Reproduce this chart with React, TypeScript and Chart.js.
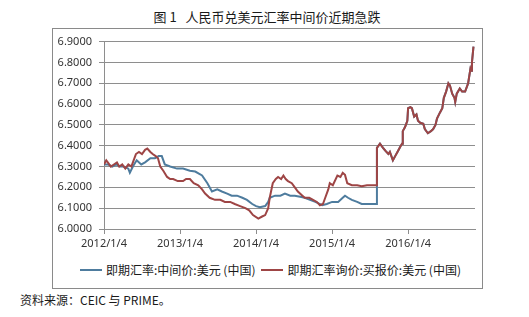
import React, { useEffect, useRef } from "react";
import { Chart, registerables } from "chart.js";

Chart.register(...registerables);

const TITLE = "图 1   人民币兑美元汇率中间价近期急跌";
const SOURCE = "资料来源：CEIC 与 PRIME。";
const SERIES_NAMES = ["即期汇率:中间价:美元 (中国)", "即期汇率询价:买报价:美元 (中国)"];

const yearTicks = [2012, 2013, 2014, 2015, 2016];
const yTicks = [6.0, 6.1, 6.2, 6.3, 6.4, 6.5, 6.6, 6.7, 6.8, 6.9];

// 中间价 (central parity) before Aug 2015, x in fractional years
const midX = [
  2012.0, 2012.05, 2012.11, 2012.16, 2012.21, 2012.26, 2012.32, 2012.34, 2012.38, 2012.43,
  2012.49, 2012.54, 2012.61, 2012.67, 2012.72, 2012.76, 2012.8, 2012.87, 2012.96, 2013.04,
  2013.13, 2013.2, 2013.29, 2013.36, 2013.42, 2013.49, 2013.55, 2013.62, 2013.68, 2013.75,
  2013.82, 2013.88, 2013.95, 2014.0, 2014.05, 2014.12, 2014.16, 2014.18, 2014.25, 2014.32,
  2014.38, 2014.45, 2014.51, 2014.58, 2014.64, 2014.71, 2014.78, 2014.87, 2014.93, 2015.0,
  2015.08, 2015.14, 2015.17, 2015.21, 2015.26, 2015.33, 2015.39, 2015.46, 2015.54, 2015.585,
];
const midY = [
  6.31, 6.31, 6.3, 6.31, 6.3, 6.3, 6.29, 6.27, 6.3, 6.33,
  6.31, 6.32, 6.34, 6.34, 6.35, 6.35, 6.31, 6.3, 6.29, 6.29,
  6.28, 6.276, 6.257, 6.22, 6.18, 6.19, 6.18, 6.17, 6.16, 6.16,
  6.15, 6.14, 6.12, 6.11, 6.105, 6.11, 6.13, 6.15, 6.16, 6.16,
  6.17, 6.16, 6.16, 6.155, 6.15, 6.14, 6.13, 6.114, 6.12, 6.13,
  6.13, 6.15, 6.16, 6.15, 6.14, 6.13, 6.12, 6.12, 6.12, 6.12,
];

// 询价买报价 (spot bid) before Aug 2015
const bidX = [
  2012.0, 2012.03, 2012.05, 2012.09, 2012.13, 2012.17, 2012.2, 2012.24, 2012.28, 2012.32,
  2012.36, 2012.38, 2012.42, 2012.46, 2012.5, 2012.54, 2012.57, 2012.61, 2012.64, 2012.68,
  2012.71, 2012.74, 2012.78, 2012.83, 2012.87, 2012.91, 2012.97, 2013.04, 2013.08, 2013.13,
  2013.18, 2013.24, 2013.29, 2013.33, 2013.39, 2013.46, 2013.53, 2013.59, 2013.66, 2013.72,
  2013.79, 2013.86, 2013.91, 2013.96, 2014.03, 2014.08, 2014.12, 2014.16, 2014.18, 2014.22,
  2014.26, 2014.29, 2014.33, 2014.36, 2014.39, 2014.42, 2014.47, 2014.51, 2014.55, 2014.61,
  2014.64, 2014.7, 2014.75, 2014.8, 2014.84, 2014.88, 2014.91, 2014.95, 2014.97, 2015.01,
  2015.07, 2015.11, 2015.14, 2015.17, 2015.2, 2015.26, 2015.33, 2015.39, 2015.46, 2015.53,
  2015.585,
];
const bidY = [
  6.31, 6.33, 6.32, 6.3, 6.31, 6.32, 6.3, 6.31, 6.29, 6.31,
  6.3, 6.32, 6.36, 6.37, 6.36, 6.38, 6.386, 6.37, 6.36, 6.35,
  6.34, 6.3, 6.28, 6.25, 6.24, 6.24, 6.23, 6.23, 6.24, 6.24,
  6.22, 6.21, 6.19, 6.17, 6.15, 6.14, 6.14, 6.13, 6.13, 6.12,
  6.11, 6.1, 6.09, 6.067, 6.05, 6.06, 6.067, 6.1, 6.15, 6.22,
  6.24, 6.25, 6.24, 6.257, 6.24, 6.23, 6.22, 6.2, 6.18, 6.16,
  6.15, 6.15, 6.14, 6.13, 6.114, 6.12, 6.15, 6.19, 6.22, 6.21,
  6.257, 6.25, 6.27, 6.26, 6.22, 6.21, 6.21, 6.205, 6.21, 6.21,
  6.21,
];

// after the Aug 2015 reform both series coincide
const lateX = [
  2015.59, 2015.63, 2015.67, 2015.7, 2015.74, 2015.76, 2015.8, 2015.83, 2015.86, 2015.89,
  2015.92, 2015.93, 2015.96, 2015.99, 2016.0, 2016.03, 2016.05, 2016.08, 2016.11, 2016.13,
  2016.16, 2016.2, 2016.22, 2016.26, 2016.3, 2016.33, 2016.36, 2016.38, 2016.42, 2016.45,
  2016.47, 2016.5, 2016.53, 2016.55, 2016.58, 2016.61, 2016.62, 2016.64, 2016.68, 2016.71,
  2016.75, 2016.78, 2016.79, 2016.82, 2016.83, 2016.84, 2016.86,
];
const lateY = [
  6.39, 6.41, 6.39, 6.376, 6.36, 6.37, 6.33, 6.35, 6.37, 6.39,
  6.41, 6.47, 6.49, 6.52, 6.58, 6.585, 6.58, 6.54, 6.55, 6.52,
  6.51, 6.505, 6.48, 6.46, 6.47, 6.48, 6.5, 6.53, 6.56, 6.58,
  6.63, 6.66, 6.7, 6.69, 6.65, 6.63, 6.61, 6.65, 6.675, 6.66,
  6.66, 6.69, 6.7, 6.77, 6.76, 6.8, 6.876,
];

const BLUE = "#4e7c9e";
const RED = "#9e4545";
const GRID = "#8e8e8e";
const FONT_CJK = "'Noto Sans CJK SC', 'Noto Sans', sans-serif";

function toPoints(xs: number[], ys: number[]) {
  return xs.map((x, i) => ({ x, y: ys[i] }));
}

export default function App() {
  const canvasRef = useRef<HTMLCanvasElement | null>(null);

  useEffect(() => {
    document.body.style.margin = "0";
    const ctx = canvasRef.current;
    if (!ctx) return;
    const chart = new Chart(ctx, {
      type: "line",
      data: {
        datasets: [
          {
            label: SERIES_NAMES[0],
            data: toPoints(midX.concat(lateX), midY.concat(lateY)),
            borderColor: BLUE,
            backgroundColor: BLUE,
            borderWidth: 2,
            pointRadius: 0,
            tension: 0,
            order: 1,
          },
          {
            label: SERIES_NAMES[1],
            data: toPoints(bidX.concat(lateX), bidY.concat(lateY)),
            borderColor: RED,
            backgroundColor: RED,
            borderWidth: 2,
            pointRadius: 0,
            tension: 0,
            order: 0,
          },
        ],
      },
      options: {
        animation: false,
        responsive: false,
        maintainAspectRatio: false,
        layout: { padding: { left: 0, right: 7, top: 12, bottom: 0 } },
        plugins: {
          legend: { display: false },
          tooltip: { enabled: false },
          title: { display: false },
        },
        scales: {
          x: {
            type: "linear",
            min: 2012,
            max: 2016.88,
            afterBuildTicks: (scale: any) => {
              scale.ticks = yearTicks.map((v) => ({ value: v }));
            },
            afterFit: (scale: any) => {
              scale.height = 29;
            },
            grid: {
              drawOnChartArea: false,
              drawTicks: true,
              tickLength: 5,
              color: GRID,
            },
            border: { display: true, color: GRID },
            ticks: {
              autoSkip: false,
              maxRotation: 0,
              padding: 3,
              color: "#333",
              font: { family: "'Noto Sans', sans-serif", size: 11 },
              callback: (v: any) => `${Math.round(Number(v))}/1/4`,
            },
          },
          y: {
            type: "linear",
            min: 6.0,
            max: 6.9,
            afterBuildTicks: (scale: any) => {
              scale.ticks = yTicks.map((v) => ({ value: v }));
            },
            afterFit: (scale: any) => {
              scale.width = 52;
            },
            grid: {
              drawOnChartArea: true,
              drawTicks: true,
              tickLength: 5,
              color: GRID,
            },
            border: { display: true, color: GRID },
            ticks: {
              autoSkip: false,
              padding: 7,
              color: "#333",
              font: { family: "'Noto Sans', sans-serif", size: 11 },
              callback: (v: any) => Number(v).toFixed(4),
            },
          },
        },
      },
    });
    return () => chart.destroy();
  }, []);

  const legendItem = (color: string, text: string) => (
    <span style={{ display: "inline-flex", alignItems: "center", marginRight: 6 }}>
      <span
        style={{
          display: "inline-block",
          width: 22,
          height: 2,
          background: color,
          marginRight: 4,
        }}
      />
      <span>{text}</span>
    </span>
  );

  return (
    <div
      style={{
        position: "relative",
        width: 529,
        height: 317,
        background: "#fff",
        overflow: "hidden",
        fontFamily: FONT_CJK,
        color: "#1a1a1a",
      }}
    >
      <div
        style={{
          position: "absolute",
          left: 0,
          width: 534,
          top: 8,
          textAlign: "center",
          fontSize: 13,
          lineHeight: "18px",
          whiteSpace: "pre",
        }}
      >
        {TITLE}
      </div>
      <div
        style={{
          position: "absolute",
          left: 52,
          top: 28,
          width: 429,
          height: 259,
          border: "1px solid #8a8a8a",
        }}
      />
      <canvas
        ref={canvasRef}
        width={430}
        height={230}
        style={{ position: "absolute", left: 52, top: 28, width: 430, height: 230 }}
      />
      <div
        style={{
          position: "absolute",
          left: 80,
          top: 261,
          fontSize: 12,
          lineHeight: "18px",
          whiteSpace: "nowrap",
          display: "flex",
        }}
      >
        {legendItem(BLUE, SERIES_NAMES[0])}
        {legendItem(RED, SERIES_NAMES[1])}
      </div>
      <div
        style={{
          position: "absolute",
          left: 20,
          top: 291,
          fontSize: 12,
          lineHeight: "18px",
          whiteSpace: "pre",
        }}
      >
        {SOURCE}
      </div>
    </div>
  );
}
